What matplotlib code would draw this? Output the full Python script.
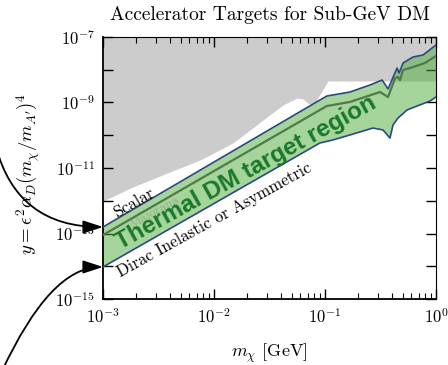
import numpy as np
import matplotlib.pyplot as plt
from matplotlib.ticker import FixedLocator, FixedFormatter, LogLocator, NullLocator, NullFormatter

plt.rcParams['font.family'] = 'serif'
plt.rcParams['font.serif'] = ['cmr10']
plt.rcParams['mathtext.fontset'] = 'cm'
plt.rcParams['axes.formatter.use_mathtext'] = True

# lower edge of the already excluded region (grey)
excl_m = [1.0e-3, 1.86e-3, 3.78e-3, 7.48e-3, 1.48e-2, 2.11e-2, 3.00e-2, 4.19e-2,
          5.60e-2, 6.34e-2, 7.18e-2, 8.13e-2, 8.83e-2, 9.79e-2, 0.106, 1.0]
excl_y = [9.8e-13, 2.63e-12, 7.0e-12, 1.75e-11, 5.8e-11, 1.45e-10, 3.6e-10, 8.4e-10,
          1.37e-9, 1.28e-9, 9.0e-10, 9.7e-10, 1.58e-9, 2.77e-9, 4.53e-9, 4.53e-9]

# thermal relic targets
scalar_m = [1.0e-3, 9.0e-2, 0.104, 0.168, 0.254, 0.327, 0.370, 0.446, 0.465, 0.505,
            0.621, 0.764, 1.0]
scalar_y = [1.58e-13, 1.19e-9, 1.58e-9, 2.09e-9, 3.42e-9, 4.86e-9, 2.6e-9, 1.13e-8,
            7.96e-9, 1.61e-8, 2.45e-8, 2.82e-8, 5.7e-8]

majorana_m = [1.0e-3, 9.0e-2, 0.104, 0.168, 0.313, 0.370, 0.428, 0.455, 0.474, 0.505,
              0.621, 0.796, 1.0]
majorana_y = [9.0e-14, 5.9e-10, 7.8e-10, 1.04e-9, 2.09e-9, 1.47e-9, 5.6e-9, 6.0e-9,
              4.86e-9, 9.8e-9, 1.21e-8, 1.61e-8, 2.63e-8]

dirac_m = [1.0e-3, 9.0e-2, 0.118, 0.168, 0.270, 0.333, 0.385, 0.410, 0.455, 0.548,
           0.675, 0.883, 1.0]
dirac_y = [9.5e-15, 5.8e-11, 7.2e-11, 1.02e-10, 1.66e-10, 1.45e-10, 8.2e-11, 2.06e-10,
           3.36e-10, 5.9e-10, 7.8e-10, 1.11e-9, 1.47e-9]

y_exponents = list(range(-15, -6))

fig = plt.figure(figsize=(4.48, 3.65), dpi=100)
ax = fig.add_axes([103/448, 66/365, 333/448, 262/365])
ax.set_xscale('log')
ax.set_yscale('log')
ax.set_xlim(1e-3, 1.0)
ax.set_ylim(1e-15, 1e-7)

# excluded region
ax.fill_between(excl_m, excl_y, 1e-7, color='#cccccc', lw=0, zorder=1)

# thermal band
band_m = np.concatenate([scalar_m, dirac_m[::-1]])
band_y = np.concatenate([scalar_y, dirac_y[::-1]])
ax.fill(band_m, band_y, color=(0.3, 0.68, 0.22), alpha=0.5, lw=0, zorder=2)
ax.plot(scalar_m, scalar_y, color='#2b4a80', lw=1.2, zorder=3)
ax.plot(dirac_m, dirac_y, color='#2b4a80', lw=1.2, zorder=3)
ax.plot(majorana_m, majorana_y, color='#4f7a4a', lw=1.6, zorder=3)

ax.text(1.94e-2, 7.0e-12, 'Thermal DM target region', rotation=29, rotation_mode='anchor',
        ha='center', va='center', color='#1a782a', fontsize=17.5, fontweight='bold',
        family='Liberation Sans', zorder=5)
ax.text(1.9e-3, 8.5e-13, 'Scalar', rotation=30, rotation_mode='anchor',
        ha='center', va='center', fontsize=12, zorder=5)
ax.text(2.94e-3, 4.5e-13, 'Majorana', rotation=29, rotation_mode='anchor',
        ha='center', va='center', fontsize=9.5, color='0.5', alpha=0.45, zorder=4)
ax.text(1.0e-2, 2.6e-13, 'Dirac Inelastic or Asymmetric', rotation=29, rotation_mode='anchor',
        ha='center', va='center', fontsize=12, zorder=5)

# ticks
ax.yaxis.set_major_locator(FixedLocator([10.0**e for e in y_exponents]))
ax.yaxis.set_major_formatter(FixedFormatter(
    [r'$10^{%d}$' % e if e % 2 else '' for e in y_exponents]))
ax.yaxis.set_minor_locator(NullLocator())
ax.xaxis.set_major_locator(LogLocator(base=10))
ax.xaxis.set_minor_locator(LogLocator(base=10, subs=np.arange(2, 10)))
ax.xaxis.set_minor_formatter(NullFormatter())
ax.tick_params(which='both', direction='in', top=True, right=True, labelsize=12, pad=6)
ax.tick_params(which='major', length=7, width=1)
ax.tick_params(which='minor', length=4, width=0.8)
for side in ['left', 'bottom']:
    ax.spines[side].set_linewidth(1.3)

ax.set_title('Accelerator Targets for Sub-GeV DM', fontsize=14, pad=12)
ax.set_xlabel(r'$m_\chi$ [GeV]', fontsize=13, labelpad=11)
fig.text(28/448, 1 - 174/365, r'$y = \epsilon^2\alpha_D(m_\chi/m_{A^\prime})^4$',
         rotation=90, ha='center', va='center', fontsize=13.5)

# arrows from the margin onto the band edges
arrow = dict(arrowstyle='-|>,head_length=0.55,head_width=0.18', color='k', lw=1.3,
             shrinkA=0, shrinkB=0, mutation_scale=22)
ax.annotate('', xy=(1e-3, scalar_y[0]), xytext=(-4, 218), textcoords='figure pixels',
            arrowprops=dict(arrow, connectionstyle='angle3,angleA=-75,angleB=0'),
            annotation_clip=False, zorder=6)
ax.annotate('', xy=(1e-3, dirac_y[0]), xytext=(2, -6), textcoords='figure pixels',
            arrowprops=dict(arrow, connectionstyle='angle3,angleA=65,angleB=0'),
            annotation_clip=False, zorder=6)

fig.savefig('out.png', dpi=100)
